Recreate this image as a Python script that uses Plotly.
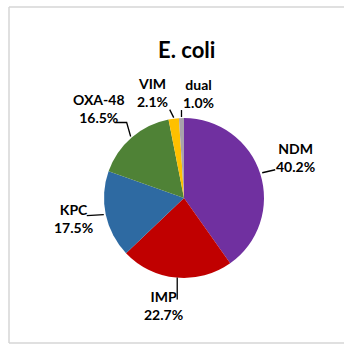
import math
import plotly.graph_objects as go

# Carbapenemase types among E. coli isolates (percent of isolates)
labels = ["NDM", "IMP", "KPC", "OXA-48", "VIM", "dual"]
shares = [40.2, 22.7, 17.5, 16.5, 2.1, 1.0]
colors = ["#7030A0", "#C00000", "#2E6AA2", "#4F8236", "#FFC000", "#A8A2AC"]

W, H = 344, 347
CX, CY, R = 184, 198, 80  # pie centre and radius, px

# Label layout: leader-line points and text centre, as px offsets from the
# point where each slice's mid-angle meets the rim.
leader_pts = {
    "NDM": [(2, -1), (15, -4)],
    "IMP": [(1, 0), (1, 22)],
    "KPC": [(-2, 0), (-19, 1)],
    "OXA-48": [(-1, -1), (-5, -15), (-17, -15)],
    "VIM": [(0, -1), (-4, -9)],
    "dual": [(0, -1), (0, -8)],
}
text_off = {
    "NDM": (35, -16),
    "IMP": (-13, 28),
    "KPC": (-32, 4),
    "OXA-48": (-33, -29),
    "VIM": (-21, -26),
    "dual": (17, -25),
}


def px(x):
    return x / W


def py(y):
    return 1 - y / H


fig = go.Figure(
    go.Pie(
        labels=labels,
        values=shares,
        sort=False,
        direction="clockwise",
        rotation=0,
        marker=dict(colors=colors, line=dict(width=0)),
        textinfo="none",
        hoverinfo="label+percent",
        showlegend=False,
        domain=dict(x=[px(CX - R), px(CX + R)], y=[py(CY + R), py(CY - R)]),
    )
)

font_lbl = dict(family="Lato", size=14, color="#000000")
annotations = [
    dict(
        text="<b>E. coli</b>", x=px(186), y=py(50), xref="paper", yref="paper",
        showarrow=False, xanchor="center", yanchor="middle",
        font=dict(family="Lato", size=22, color="#000000"),
    )
]
# Chart-area frame: top, left and bottom edges, running to the page edge
frame_style = dict(type="line", xref="paper", yref="paper",
                   line=dict(color="#d6d6d6", width=1.5))
shapes = [
    dict(frame_style, x0=px(9), x1=1.0, y0=py(7), y1=py(7)),
    dict(frame_style, x0=px(9), x1=px(9), y0=py(7), y1=py(343)),
    dict(frame_style, x0=px(9), x1=1.0, y0=py(343), y1=py(343)),
]

total = sum(shares)
cum = 0.0
for name, v in zip(labels, shares):
    mid = (cum + v / 2) / total * 2 * math.pi
    cum += v
    ex = CX + R * math.sin(mid)
    ey = CY - R * math.cos(mid)
    pts = [(ex + dx, ey + dy) for dx, dy in leader_pts[name]]
    path = "M " + " L ".join(f"{px(x):.5f},{py(y):.5f}" for x, y in pts)
    shapes.append(dict(type="path", xref="paper", yref="paper", path=path,
                       line=dict(color="#000000", width=1.3)))
    tx, ty = text_off[name]
    annotations.append(dict(
        text=f"<b>{name}</b><br><b>{v:.1f}%</b>",
        x=px(ex + tx), y=py(ey + ty), xref="paper", yref="paper",
        showarrow=False, align="center", font=font_lbl,
        xanchor="center", yanchor="middle",
    ))

fig.update_layout(
    width=W, height=H,
    margin=dict(l=0, r=0, t=0, b=0),
    paper_bgcolor="#ffffff",
    plot_bgcolor="#ffffff",
    annotations=annotations,
    shapes=shapes,
)

fig.write_html("out.html")
